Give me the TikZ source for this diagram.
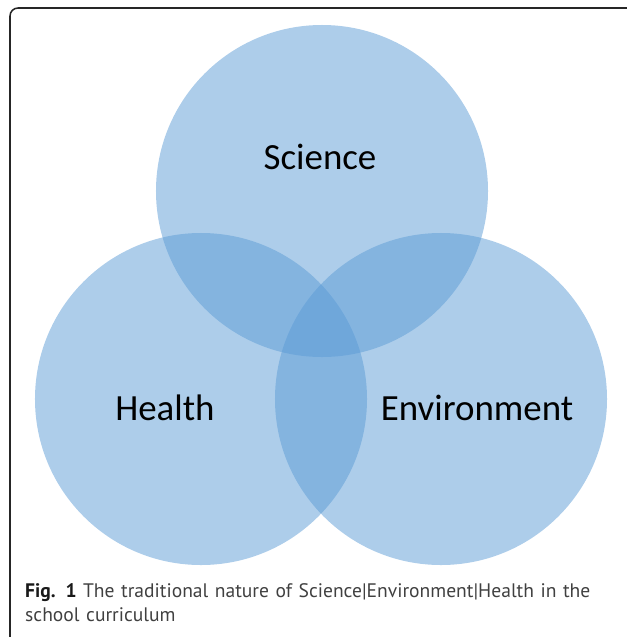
\documentclass[tikz,border=0pt]{standalone}
\usepackage{fontspec}
\setmainfont{Carlito}
\newfontfamily\capfont{PT Sans}
\usepackage{tikz}

\definecolor{setblue}{RGB}{91,155,213}

\begin{document}
\begin{tikzpicture}[x=0.03cm,y=-0.03cm,
    setcircle/.style={circle,minimum size=9.96cm,inner sep=0pt,fill=setblue,fill opacity=0.5},
    setlabel/.style={font=\fontsize{31.5}{36}\selectfont,text=black},
    frame/.style={line width=1.3pt,draw=black!85,rounded corners=0.24cm}]
                \clip (0,0) rectangle (627,637);
                % The box around figure and caption
                \draw[frame] (30,645) -- (10,645) -- (10,8) -- (660,8);
                % Draw the three overlapping sets
                \node[setcircle] (sci) at (322,191) {};
                \node[setcircle] (hea) at (201,399) {};
                \node[setcircle] (env) at (441,399) {};
                % Names of the sets
                \node[setlabel] (scilabel) at (320,157) {Science};
                \node[setlabel] (healabel) at (165,408) {Health};
                \node[setlabel] (envlabel) at (477,408) {Environment};
                % Caption under the sets
                \node[anchor=north west,inner sep=0pt,text width=17.4cm,align=left,
                      font=\capfont\fontsize{16.7}{20.5}\selectfont,text=black!75]
                      (caption) at (25,583) {\textcolor{black!90}{\textbf{Fig. 1}} The traditional nature of Science|Environment|Health in the school curriculum};
            \end{tikzpicture}
\end{document}
